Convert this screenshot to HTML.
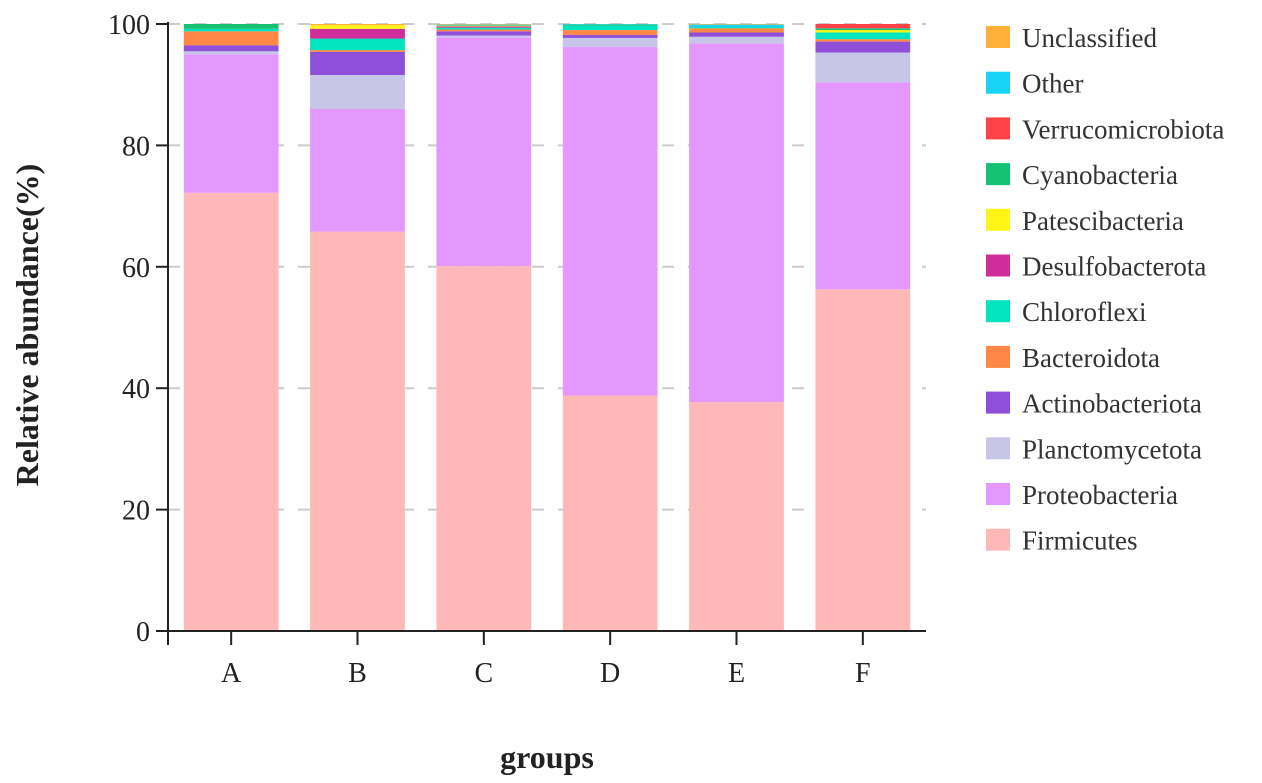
<!DOCTYPE html>
<html><head><meta charset="utf-8"><style>
body{margin:0;background:#fff;}
svg{display:block;font-family:"Liberation Serif",serif;}
</style></head><body>
<svg id="chart" width="1262" height="783">
<g id="grid"></g>
<g id="bars"></g>
<g id="axes"></g>
<g id="legend"></g>
<text x="547" y="768" text-anchor="middle" font-size="32" font-weight="bold" fill="#222">groups</text>
<text transform="translate(38,325) rotate(-90)" text-anchor="middle" font-size="32" font-weight="bold" fill="#222">Relative abundance(%)</text>
</svg>
<script>
const categories = ["A","B","C","D","E","F"];
const seriesNames = ["Firmicutes","Proteobacteria","Planctomycetota","Actinobacteriota","Bacteroidota","Chloroflexi","Desulfobacterota","Patescibacteria","Cyanobacteria","Verrucomicrobiota","Other","Unclassified"];
const colors = ["#FFB8B8","#E397FF","#C8C6E8","#8F4FDB","#FF8747","#00E5C0","#D02C9A","#FFF516","#16C173","#FF4347","#17D4F6","#FDB139"];
const firmicutes = [72.2,65.8,60.1,38.8,37.7,56.3];
const proteobacteria = [22.8,20.2,37.7,57.4,59.1,34.1];
const planctomycetota = [0.5,5.6,0.3,1.5,1.1,4.9];
const actinobacteriota = [1.0,3.8,0.7,0.5,0.7,1.8];
const bacteroidota = [2.3,0.3,0.3,0.8,0.7,0.4];
const chloroflexi = [0.4,1.9,0.3,0.7,0.2,1.1];
const desulfobacterota = [0,1.6,0.2,0,0,0];
const patescibacteria = [0,0.6,0.1,0,0,0.4];
const cyanobacteria = [0.8,0,0.1,0.2,0,0.3];
const verrucomicrobiota = [0,0,0,0,0,0.7];
const other = [0,0,0.1,0.1,0.4,0];
const unclassified = [0,0.2,0.1,0,0.1,0];
const series = [firmicutes,proteobacteria,planctomycetota,actinobacteriota,bacteroidota,chloroflexi,desulfobacterota,patescibacteria,cyanobacteria,verrucomicrobiota,other,unclassified];
const yTicks = [0,20,40,60,80,100];

const NS="http://www.w3.org/2000/svg";
const x0=168,x1=926,yBase=631,yTop=24;
const band=(x1-x0)/categories.length;
const yScale=v=>yBase-(v/100)*(yBase-yTop);
const xCenter=i=>x0+band*(i+0.5);
const bw=band*0.75;
function mk(tag,attrs,parent){const e=document.createElementNS(NS,tag);for(const k in attrs)e.setAttribute(k,attrs[k]);parent.appendChild(e);return e;}
const grid=document.getElementById('grid'),bars=document.getElementById('bars'),axes=document.getElementById('axes'),legend=document.getElementById('legend');

yTicks.forEach(t=>{
  if(t>0){const g=mk('line',{x1:x0,x2:x1,y1:yScale(t),y2:yScale(t),stroke:'#ccc','stroke-width':2,'stroke-dasharray':'12,14'},grid);
  
  }
  const tk=mk('line',{x1:x0-12,x2:x0,y1:yScale(t),y2:yScale(t),stroke:'#222','stroke-width':2},axes);
  
  
  const lb=mk('text',{x:x0-18,y:yScale(t)+10,'text-anchor':'end','font-size':28,fill:'#222'},axes);
  lb.textContent=t;
  
  
});

categories.forEach((c,i)=>{
  let cum=0;
  series.forEach((s,j)=>{
    const v=s[i]; if(v<=0) return;
    const r=mk('rect',{x:xCenter(i)-bw/2,y:yScale(cum+v),width:bw,height:yScale(cum)-yScale(cum+v),fill:colors[j]},bars);
    
    
    cum+=v;
  });
  const tk=mk('line',{x1:xCenter(i),x2:xCenter(i),y1:yBase,y2:yBase+14,stroke:'#222','stroke-width':2},axes);
  
  
  const lb=mk('text',{x:xCenter(i),y:yBase+51,'text-anchor':'middle','font-size':28,fill:'#222'},axes);
  lb.textContent=c;
  
  
});

const ya=mk('line',{x1:x0,x2:x0,y1:yTop-2,y2:yBase+14,stroke:'#222','stroke-width':2},axes);


const xa=mk('line',{x1:x0-12,x2:x1,y1:yBase,y2:yBase,stroke:'#222','stroke-width':2},axes);



for(let k=0;k<seriesNames.length;k++){
  const j=seriesNames.length-1-k;
  const cy=37+k*45.7;
  const g=mk('g',{},legend);
  
  
  mk('rect',{x:986,y:cy-11,width:24,height:22,fill:colors[j]},g);
  const t=mk('text',{x:1022,y:cy+10,'font-size':27,fill:'#333'},g);
  t.textContent=seriesNames[j];
}
</script>
</body></html>
